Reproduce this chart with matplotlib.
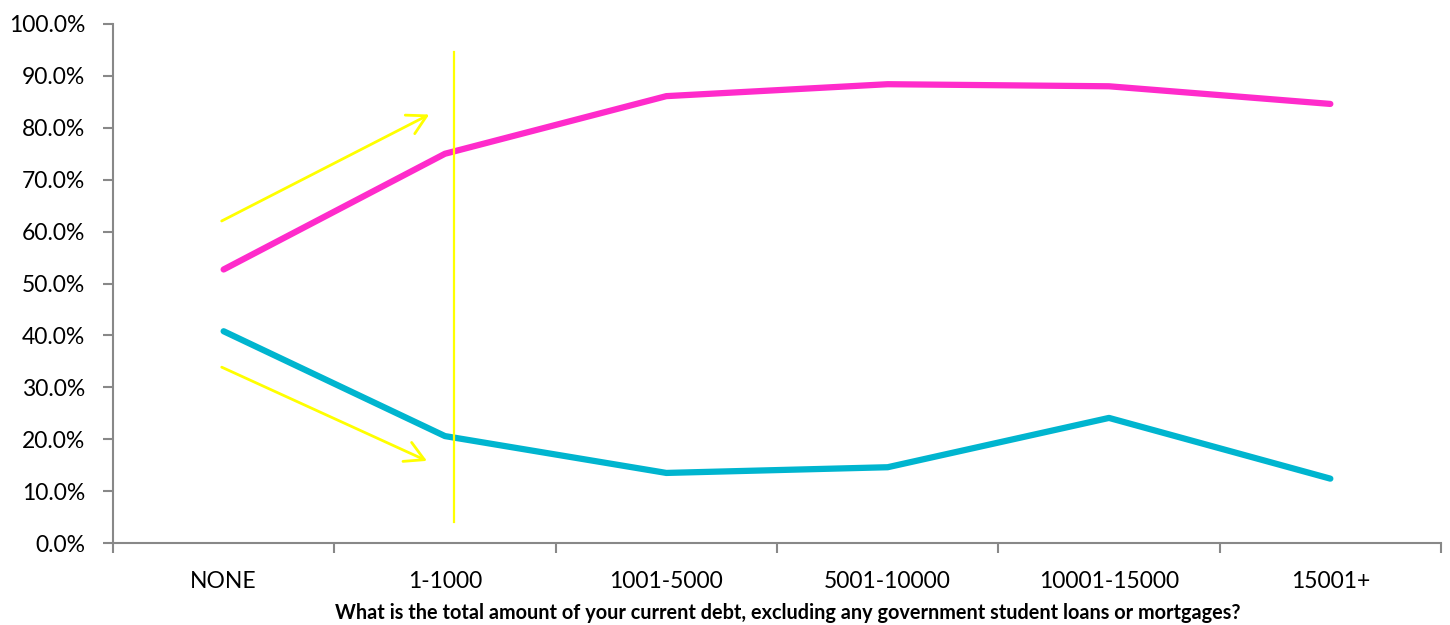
import matplotlib
matplotlib.use("Agg")
import matplotlib.pyplot as plt
from matplotlib.ticker import FuncFormatter, FixedLocator

categories = ["NONE", "1-1000", "1001-5000", "5001-10000", "10001-15000", "15001+"]
series_pink = [52.7, 75.0, 86.1, 88.4, 88.0, 84.6]
series_blue = [40.8, 20.6, 13.5, 14.6, 24.1, 12.4]
y_ticks = [0, 10, 20, 30, 40, 50, 60, 70, 80, 90, 100]
xlabel = "What is the total amount of your current debt, excluding any government student loans or mortgages?"

plt.rcParams['font.family'] = ['Lato', 'DejaVu Sans']

fig = plt.figure(figsize=(14.5, 6.25), dpi=100)
ax = fig.add_axes([0.0779, 0.1312, 0.9159, 0.8304])

x = list(range(len(categories)))
ax.plot(x, series_pink, color="#FF2BCB", lw=4.5, solid_capstyle="round", solid_joinstyle="round")
ax.plot(x, series_blue, color="#00B5CF", lw=4.5, solid_capstyle="round", solid_joinstyle="round")

# yellow annotations
yel = "#FFFF00"
ax.plot([1.04, 1.04], [4.0, 94.6], color=yel, lw=1.6)
astyle = "->,head_length=1.35,head_width=0.75"
ax.annotate("", xy=(0.94, 82.8), xytext=(-0.02, 61.8),
            arrowprops=dict(arrowstyle=astyle, color=yel, lw=2))
ax.annotate("", xy=(0.93, 15.6), xytext=(-0.02, 34.1),
            arrowprops=dict(arrowstyle=astyle, color=yel, lw=2))

ax.set_xlim(-0.5, len(categories) - 0.5)
ax.set_ylim(0, 100)
ax.set_yticks(y_ticks)
ax.yaxis.set_major_formatter(FuncFormatter(lambda v, p: f"{v:.1f}%"))
ax.set_xticks(x)
ax.set_xticklabels(categories)
ax.xaxis.set_minor_locator(FixedLocator([i - 0.5 for i in range(len(categories) + 1)]))
ax.tick_params(axis="x", which="major", length=0, labelsize=16.5, pad=20, colors="#000000")
ax.tick_params(axis="x", which="minor", length=7, width=1.5, color="#888888", direction="out")
ax.tick_params(axis="y", length=7, width=1.5, color="#888888", labelsize=16.5, pad=13)

for s in ["top", "right"]:
    ax.spines[s].set_visible(False)
for s in ["left", "bottom"]:
    ax.spines[s].set_color("#888888")
    ax.spines[s].set_linewidth(1.5)

fig.text(0.5435, 1 - 613 / 625, xlabel, fontsize=14.3, fontweight="bold",
         ha="center", va="center")

fig.savefig("out.png", dpi=100, facecolor="white")
